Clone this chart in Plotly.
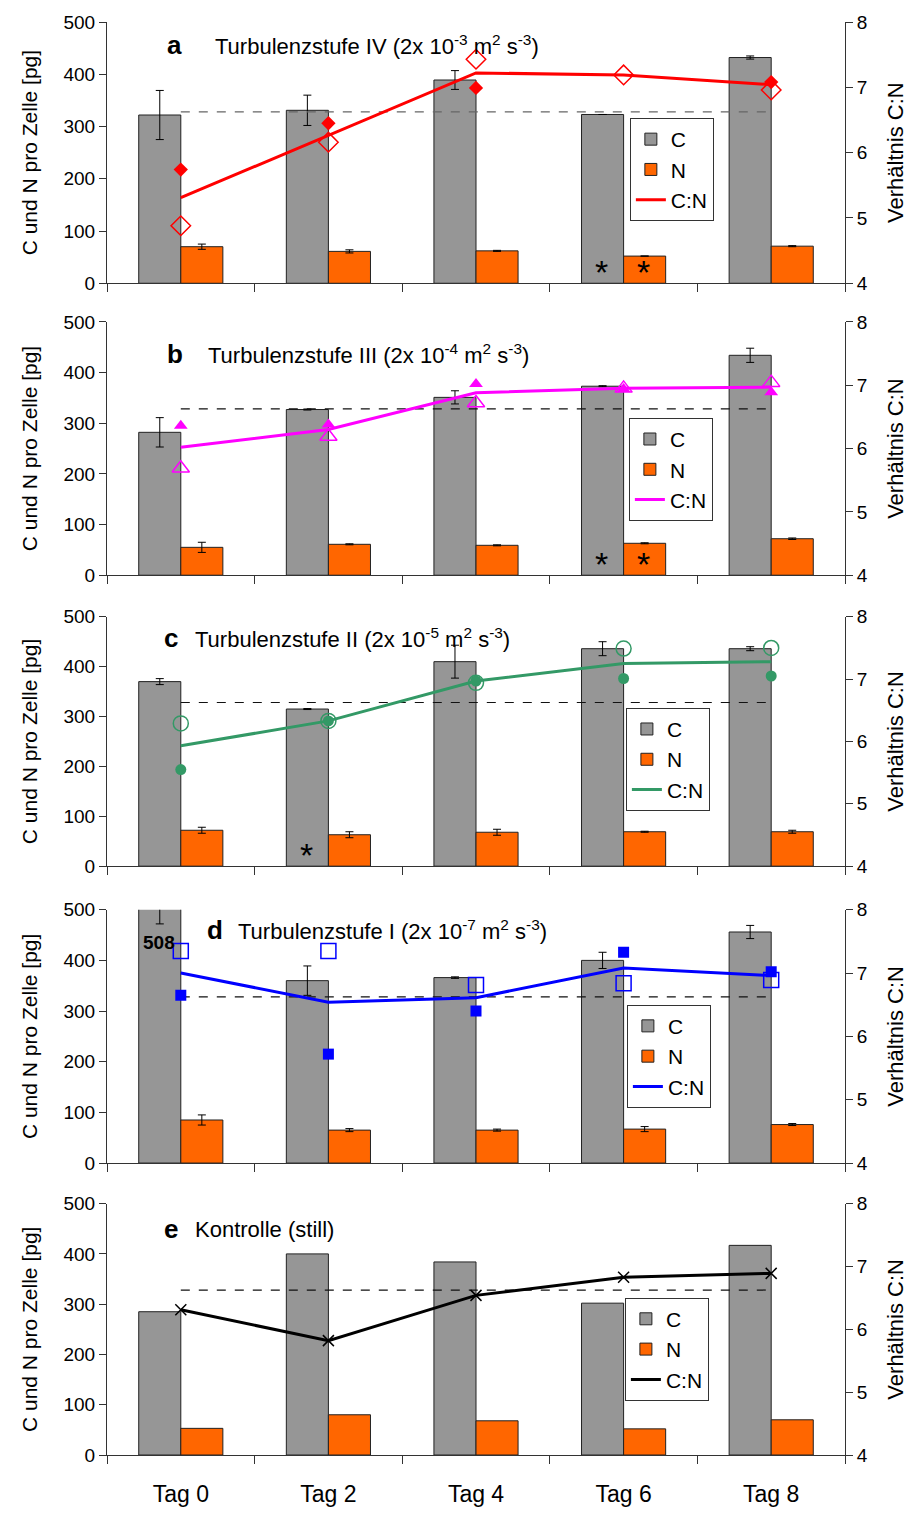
import plotly.graph_objects as go

CATS = ["Tag 0", "Tag 2", "Tag 4", "Tag 6", "Tag 8"]
REDFIELD = 6.625

# Panel a - Turbulenzstufe IV
A_C = [322, 331, 389, 323, 432]
A_C_ERR = [47, 29, 18, None, 3]
A_N = [70, 61, 62, 52, 71]
A_N_ERR = [5, 3, 1, None, 1]
A_CN = [5.31, 6.26, 7.22, 7.19, 7.04]
A_REP1 = [5.74, 6.45, 6.99, None, 7.08]
A_REP2 = [4.88, 6.16, 7.43, 7.19, 6.96]

# Panel b - Turbulenzstufe III
B_C = [282, 327, 351, 373, 434]
B_C_ERR = [29, 1, 13, 1, 14]
B_N = [55, 61, 59, 63, 72]
B_N_ERR = [10, 1, 1, 1, 1.5]
B_CN = [6.02, 6.30, 6.88, 6.95, 6.97]
B_REP1 = [6.36, 6.38, 7.02, 6.94, 6.89]
B_REP2 = [5.69, 6.19, 6.72, 6.95, 7.04]

# Panel c - Turbulenzstufe II
C_C = [370, 315, 410, 436, 436]
C_C_ERR = [6, 1, 33, 14, 4]
C_N = [72, 63, 68, 69, 69]
C_N_ERR = [6, 6, 6, 1, 3]
C_CN = [5.93, 6.33, 6.97, 7.25, 7.28]
C_REP1 = [5.55, 6.33, 6.97, 7.01, 7.05]
C_REP2 = [6.29, 6.33, 6.94, 7.49, 7.50]

# Panel d - Turbulenzstufe I
D_C = [508, 360, 366, 400, 456]
D_C_ERR = [36, 29, 1.5, 16, 13]
D_N = [85, 65, 65, 67, 76]
D_N_ERR = [10, 3, 2, 5, 2]
D_CN = [7.00, 6.54, 6.61, 7.08, 6.96]
D_REP1 = [6.65, 5.72, 6.40, 7.33, 7.02]
D_REP2 = [7.35, 7.35, 6.81, 6.84, 6.89]

# Panel e - Kontrolle
E_C = [285, 400, 384, 302, 417]
E_N = [53, 80, 68, 52, 70]
E_CN = [6.31, 5.82, 6.54, 6.83, 6.89]

PANELS = [
    dict(letter="a", title="Turbulenzstufe IV (2x 10<sup>-3</sup> m<sup>2</sup> s<sup>-3</sup>)",
         c=A_C, cerr=A_C_ERR, n=A_N, nerr=A_N_ERR, cn=A_CN, rep1=A_REP1, rep2=A_REP2,
         color="#FF0000", sym="diamond", fsize=11, osize=15),
    dict(letter="b", title="Turbulenzstufe III (2x 10<sup>-4</sup> m<sup>2</sup> s<sup>-3</sup>)",
         c=B_C, cerr=B_C_ERR, n=B_N, nerr=B_N_ERR, cn=B_CN, rep1=B_REP1, rep2=B_REP2,
         color="#FF00FF", sym="triangle-up", fsize=12, osize=15),
    dict(letter="c", title="Turbulenzstufe II (2x 10<sup>-5</sup> m<sup>2</sup> s<sup>-3</sup>)",
         c=C_C, cerr=C_C_ERR, n=C_N, nerr=C_N_ERR, cn=C_CN, rep1=C_REP1, rep2=C_REP2,
         color="#339966", sym="circle", fsize=11, osize=15),
    dict(letter="d", title="Turbulenzstufe I (2x 10<sup>-7</sup> m<sup>2</sup> s<sup>-3</sup>)",
         c=D_C, cerr=D_C_ERR, n=D_N, nerr=D_N_ERR, cn=D_CN, rep1=D_REP1, rep2=D_REP2,
         color="#0000FF", sym="square", fsize=11, osize=15),
    dict(letter="e", title="Kontrolle (still)",
         c=E_C, cerr=None, n=E_N, nerr=None, cn=E_CN, rep1=None, rep2=None,
         color="#000000", sym="x-thin", fsize=10, osize=10),
]

# layout geometry (page pixels; body margin removed by post_script)
W, H = 915, 1519
PX_L, PX_R, PX_T, PX_B = 107, 848, 17, 1465
ML, MT = PX_L, PX_T
MR = W - PX_R
MB = H - PX_B
PW, PH = PX_R - PX_L, PX_B - PX_T
TOP_PX = [17, 320, 618, 914, 1211]
BOT_PX = [281, 576, 870, 1170, 1465]
LEG_PX = [(632, 114), (631, 417), (628, 710), (629, 1010), (627, 1306)]
LETTER_PX = [(175, 40), (175, 352), (171, 639), (215, 935), (171, 1237)]
TITLE_PX = [213, 206, 193, 237, 193]


def px_x(px):
    return (px - PX_L) / PW


def px_y(py):
    return (PX_B - py) / PH


FONT = "Arial, Liberation Sans, sans-serif"
GRAY = "#969696"
ORANGE = "#FF6600"
AXC = "#333333"

fig = go.Figure()
layout = dict(
    width=W, height=H,
    margin=dict(l=ML, r=MR, t=MT, b=MB),
    paper_bgcolor="white", plot_bgcolor="rgba(0,0,0,0)",
    barmode="group", bargap=0.43, bargroupgap=0,
    font=dict(family=FONT, size=19, color="black"),
    annotations=[],
)

for i, p in enumerate(PANELS):
    xa = "x" if i == 0 else f"x{i+1}"
    ya1 = f"y{2*i+1}" if i > 0 else "y"
    ya2 = f"y{2*i+2}"
    leg = "legend" if i == 0 else f"legend{i+1}"

    err_c = dict(type="data", array=p["cerr"], color="black", thickness=1, width=4) if p["cerr"] else None
    err_n = dict(type="data", array=p["nerr"], color="black", thickness=1, width=4) if p["nerr"] else None

    fig.add_trace(go.Bar(x=CATS, y=p["c"], name="C", xaxis=xa, yaxis=ya1, legend=leg,
                         marker=dict(color=GRAY, line=dict(color="#222", width=1)),
                         error_y=err_c, offsetgroup="C"))
    fig.add_trace(go.Bar(x=CATS, y=p["n"], name="N", xaxis=xa, yaxis=ya1, legend=leg,
                         marker=dict(color=ORANGE, line=dict(color="#222", width=1)),
                         error_y=err_n, offsetgroup="N"))
    fig.add_trace(go.Scatter(x=[CATS[0], CATS[-1]], y=[REDFIELD, REDFIELD], mode="lines",
                             xaxis=xa, yaxis=ya2, showlegend=False, hoverinfo="skip",
                             line=dict(color="#666" if i == 0 else "#111", width=1.2, dash="dash")))
    fig.add_trace(go.Scatter(x=CATS, y=p["cn"], mode="lines", name="C:N", xaxis=xa, yaxis=ya2,
                             legend=leg, line=dict(color=p["color"], width=3)))
    if p["rep1"] is not None:
        fig.add_trace(go.Scatter(x=CATS, y=p["rep2"], mode="markers", xaxis=xa, yaxis=ya2,
                                 showlegend=False,
                                 marker=dict(symbol=p["sym"] + "-open", size=p["osize"],
                                             color=p["color"], line=dict(color=p["color"], width=1.5))))
        fig.add_trace(go.Scatter(x=CATS, y=p["rep1"], mode="markers", xaxis=xa, yaxis=ya2,
                                 showlegend=False,
                                 marker=dict(symbol=p["sym"], size=p["fsize"], color=p["color"],
                                             line=dict(width=0))))
    else:
        fig.add_trace(go.Scatter(x=CATS, y=p["cn"], mode="markers", xaxis=xa, yaxis=ya2,
                                 showlegend=False,
                                 marker=dict(symbol="x-thin", size=11,
                                             line=dict(color="black", width=1.5))))

    dom = [px_y(BOT_PX[i]), px_y(TOP_PX[i])]
    xkey = "xaxis" if i == 0 else f"xaxis{i+1}"
    y1key = "yaxis" if i == 0 else f"yaxis{2*i+1}"
    y2key = f"yaxis{2*i+2}"
    layout[xkey] = dict(domain=[0, 1], anchor=ya1, type="category", categoryarray=CATS,
                        range=[-0.5, 4.5], tickson="boundaries", ticks="outside", ticklen=8,
                        tickcolor=AXC, showline=True, linecolor=AXC, linewidth=1,
                        showgrid=False, showticklabels=(i == 4), ticklabelstandoff=18,
                        tickfont=dict(size=23), fixedrange=True)
    layout[y1key] = dict(domain=dom, anchor=xa, range=[0, 500], dtick=100, ticks="outside",
                         ticklen=7, tickcolor=AXC, showline=True, linecolor=AXC,
                         showgrid=False, zeroline=False, tickfont=dict(size=19),
                         title=dict(text="C und N pro Zelle [pg]", font=dict(size=21), standoff=20))
    layout[y2key] = dict(domain=dom, anchor=xa, overlaying=ya1, side="right", range=[4, 8],
                         dtick=1, ticks="outside", ticklen=7, tickcolor=AXC, showline=True,
                         linecolor=AXC, showgrid=False, zeroline=False, tickfont=dict(size=19),
                         title=dict(text="Verhältnis C:N", font=dict(size=22), standoff=20))

    lx, ly = LEG_PX[i]
    layout[leg] = dict(x=px_x(lx), y=px_y(ly), xanchor="left", yanchor="top",
                       bgcolor="white", bordercolor=AXC, borderwidth=1,
                       font=dict(size=21), tracegroupgap=0, itemwidth=30)

    # panel titles
    lpx, lpy = LETTER_PX[i]
    layout["annotations"].append(dict(text=f"<b>{p['letter']}</b>", xref="paper", yref="paper",
                                      x=px_x(lpx), y=px_y(lpy), xanchor="center", yanchor="middle",
                                      showarrow=False, font=dict(size=26)))
    layout["annotations"].append(dict(text=p["title"], xref="paper", yref="paper",
                                      x=px_x(TITLE_PX[i]), y=px_y(lpy), xanchor="left",
                                      yanchor="middle", showarrow=False, font=dict(size=22)))


# asterisks marking special samples
def asterisk(i, cat, shift):
    xa = "x" if i == 0 else f"x{i+1}"
    ya1 = "y" if i == 0 else f"y{2*i+1}"
    layout["annotations"].append(dict(text="*", xref=xa, yref=ya1, x=cat, y=0, xshift=shift,
                                      yanchor="bottom", yshift=-10, showarrow=False,
                                      font=dict(size=34)))


asterisk(0, "Tag 6", -22)
asterisk(0, "Tag 6", 20)
asterisk(1, "Tag 6", -22)
asterisk(1, "Tag 6", 20)
asterisk(2, "Tag 2", -22)

# value label for clipped bar
layout["annotations"].append(dict(text=f"<b>{D_C[0]}</b>", xref="x4", yref="y7", x="Tag 0",
                                  y=435, xshift=-22, showarrow=False, font=dict(size=19)))

fig.update_layout(**layout)
fig.write_html("out.html", config={"displayModeBar": False},
               post_script="document.body.style.margin='0';document.body.style.overflow='hidden';")
